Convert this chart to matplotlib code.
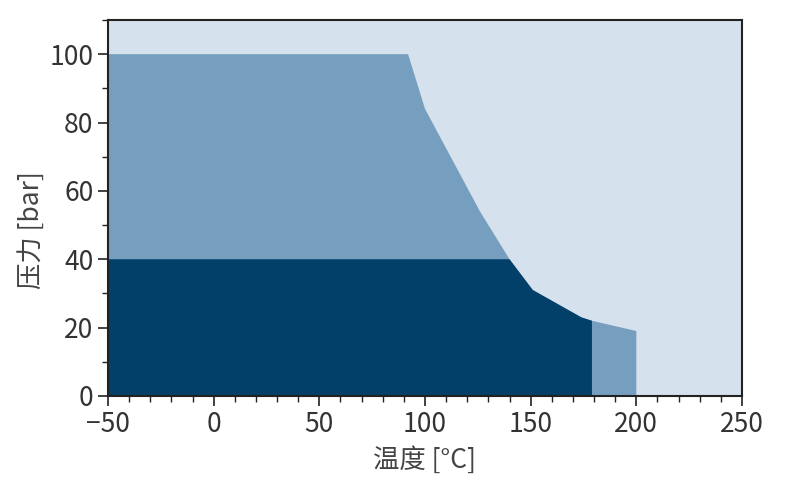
import matplotlib.pyplot as plt
from matplotlib.ticker import MultipleLocator

# region outlines (temperature in °C, pressure in bar)
outer_t = [-50, 92, 100, 126, 140, 151, 174, 179, 200, 200, -50]
outer_p = [100, 100, 84, 54, 40, 31, 23, 22, 19, 0, 0]
inner_t = [-50, 140, 151, 174, 179, 179, -50]
inner_p = [40, 40, 31, 23, 22, 0, 0]

xticks = [-50, 0, 50, 100, 150, 200, 250]
yticks = [0, 20, 40, 60, 80, 100]

plt.rcParams['font.family'] = ['Noto Sans CJK SC', 'DejaVu Sans']
plt.rcParams['font.weight'] = 'light'

fig, ax = plt.subplots(figsize=(7.86, 4.83), dpi=100)
fig.subplots_adjust(left=0.1374, right=0.944, top=0.9586, bottom=0.1802)

ax.set_facecolor('#d5e1ec')
ax.fill(outer_t, outer_p, color='#769fbf', lw=0)
ax.fill(inner_t, inner_p, color='#024069', lw=0)

ax.set_xlim(-50, 250)
ax.set_ylim(0, 110)
ax.set_xticks(xticks)
ax.set_yticks(yticks)
ax.xaxis.set_minor_locator(MultipleLocator(10))
ax.yaxis.set_minor_locator(MultipleLocator(10))
ax.tick_params(which='major', length=7, width=1.2, colors='#222222', labelsize=19,
               labelcolor='#333333')
ax.tick_params(which='minor', length=4, width=1.0, colors='#222222')
for s in ax.spines.values():
    s.set_color('#222222')
    s.set_linewidth(1.5)

ax.set_xlabel('温度 [°C]', fontsize=19, color='#444444', labelpad=6)
ax.set_ylabel('压力 [bar]', fontsize=19, color='#444444')
ax.yaxis.set_label_coords(-0.1, 0.44)

fig.savefig('out.png', dpi=100)
